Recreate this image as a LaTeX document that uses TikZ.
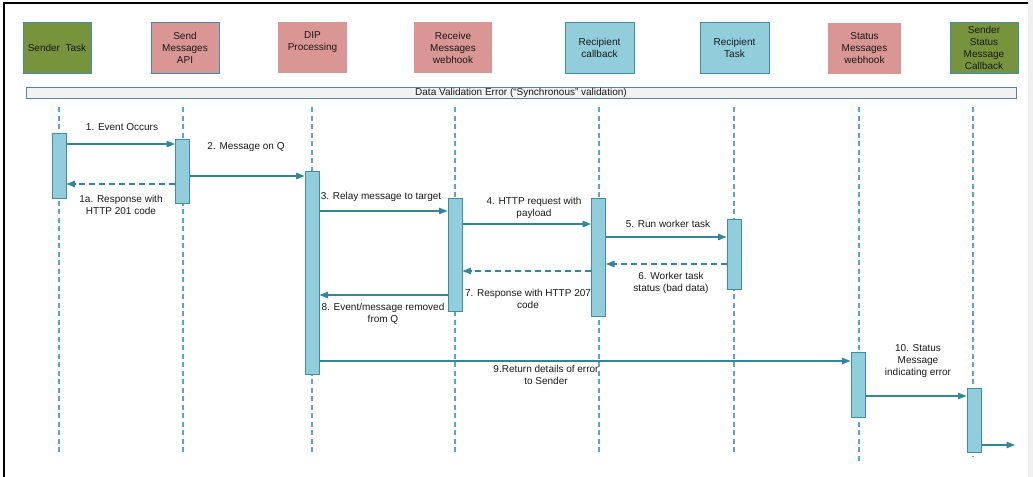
\documentclass[tikz,border=0pt]{standalone}
\usepackage{fontspec}
\setmainfont{Liberation Sans}
\usetikzlibrary{arrows.meta,shapes}
\definecolor{olive}{HTML}{77933C}
\definecolor{rose}{HTML}{D99694}
\definecolor{sky}{HTML}{92CDDC}
\definecolor{teal}{HTML}{3B8FA8}
\definecolor{deepteal}{HTML}{31859C}
\definecolor{lifeblue}{HTML}{5FA6BB}
\definecolor{bandgray}{HTML}{F2F2F2}
\begin{document}
\begin{tikzpicture}[
  every node/.style={font=\fontsize{10bp}{12bp}\selectfont, text=black!90},
  actor/.style={rectangle, minimum height=51bp, inner sep=1bp, align=center},
  bar/.style={rectangle, draw=teal, line width=1pt, fill=sky, minimum width=14bp, inner sep=0pt},
  life/.style={lifeblue, line width=1.3pt, dash pattern=on 5bp off 3.5bp},
  msg/.style={-{Triangle[length=8.5bp,width=6.5bp]}, deepteal, line width=1.1pt},
  reply/.style={msg, dash pattern=on 6bp off 4bp},
  lbl/.style={align=center, inner sep=0pt}
]
\useasboundingbox (0bp,0bp) rectangle (1033bp,-477bp);
% frame
\fill[black!6] (1028bp,0bp) rectangle (1033bp,-477bp);
\draw[black, line width=1.2pt] (4bp,-477bp) -- (4bp,-3bp) -- (1028bp,-3bp);

% actors
\node (ST) at (57bp,-47.5bp)[actor, fill=olive, draw=teal, minimum width=68bp] {Sender~ Task};
\node (SM) at (185bp,-47.5bp)[actor, fill=rose, draw=teal, minimum width=68bp] {Send\\Messages\\API};
\node (DIP) at (312.5bp,-47.5bp)[actor, fill=rose, minimum width=69bp] {DIP\\Processing\\~};
\node (RM) at (453bp,-47.5bp)[actor, fill=rose, minimum width=78bp] {Receive\\Messages\\webhook};
\node (RC) at (599.5bp,-47.5bp)[actor, fill=sky, draw=teal, minimum width=69bp] {Recipient\\callback};
\node (RT) at (734.5bp,-47.5bp)[actor, fill=sky, draw=teal, minimum width=69bp] {Recipient\\Task};
\node (SW) at (864.5bp,-48.5bp)[actor, fill=rose, minimum width=73bp] {Status\\Messages\\webhook};
\node (SS) at (984bp,-47.5bp)[actor, fill=olive, draw=teal, minimum width=68bp] {Sender\\Status\\Message\\Callback};

% band
\node (band) at (521bp,-92.5bp)[rectangle, fill=bandgray, draw=teal!60!gray, line width=0.8pt, minimum width=990bp, minimum height=11bp, inner sep=0pt] {Data Validation Error (“Synchronous” validation)};

% lifelines
\foreach \x/\b in {59/454, 183/454, 312/453, 455/452, 599/452, 734/452, 859/462, 973/456}
  \draw[life] (\x bp,-107bp) -- (\x bp,-\b bp);

% activations
\node (A1) at (59bp,-165.5bp)[bar, minimum height=65bp] {};
\node (A2) at (182.5bp,-171bp)[bar, minimum height=64bp] {};
\node (A3) at (312bp,-272.5bp)[bar, minimum height=203bp] {};
\node (A4) at (455bp,-254.5bp)[bar, minimum height=113bp] {};
\node (A5) at (598.5bp,-257bp)[bar, minimum height=118bp] {};
\node (A6) at (734bp,-254bp)[bar, minimum height=70bp] {};
\node (A7) at (858bp,-384.5bp)[bar, minimum height=65bp] {};
\node (A8) at (974bp,-420bp)[bar, minimum height=64bp] {};
\coordinate (out) at (1015bp,-445bp);

% messages
\draw[msg] (A1.east |- 0,-144bp) -- (A2.west |- 0,-144bp);
\draw[reply] (A2.west |- 0,-184bp) -- (A1.east |- 0,-184bp);
\draw[msg] (A2.east |- 0,-176bp) -- (A3.west |- 0,-176bp);
\draw[msg] (A3.east |- 0,-211bp) -- (A4.west |- 0,-211bp);
\draw[msg] (A4.east |- 0,-224bp) -- (A5.west |- 0,-224bp);
\draw[msg] (A5.east |- 0,-237bp) -- (A6.west |- 0,-237bp);
\draw[reply] (A6.west |- 0,-264bp) -- (A5.east |- 0,-264bp);
\draw[reply] (A5.west |- 0,-271bp) -- (A4.east |- 0,-271bp);
\draw[msg] (A4.west |- 0,-295bp) -- (A3.east |- 0,-295bp);
\draw[msg] (A3.east |- 0,-361bp) -- (A7.west |- 0,-361bp);
\draw[msg] (A7.east |- 0,-396bp) -- (A8.west |- 0,-396bp);
\draw[msg] (A8.east |- out) -- (out);

% labels
\node (m1) at (122bp,-127bp)[lbl] {1. Event Occurs};
\node (m1a) at (121bp,-205bp)[lbl] {1a. Response with\\HTTP 201 code};
\node (m2) at (246bp,-147bp)[lbl] {2. Message on Q};
\node (m3) at (381bp,-197bp)[lbl] {3. Relay message to target};
\node (m4) at (534bp,-207.5bp)[lbl] {4. HTTP request with\\payload};
\node (m5) at (668bp,-224bp)[lbl] {5. Run worker task};
\node (m6) at (671bp,-283bp)[lbl] {6. Worker task\\status (bad data)};
\node (m7) at (528bp,-298.5bp)[lbl] {7. Response with HTTP 207\\code};
\node (m8) at (383bp,-314bp)[lbl] {8. Event/message removed\\from Q};
\node (m9) at (546bp,-374.5bp)[lbl] {9.Return details of error\\to Sender};
\node (m10) at (918bp,-361bp)[lbl] {10. Status\\Message\\indicating error};

\end{tikzpicture}
\end{document}
